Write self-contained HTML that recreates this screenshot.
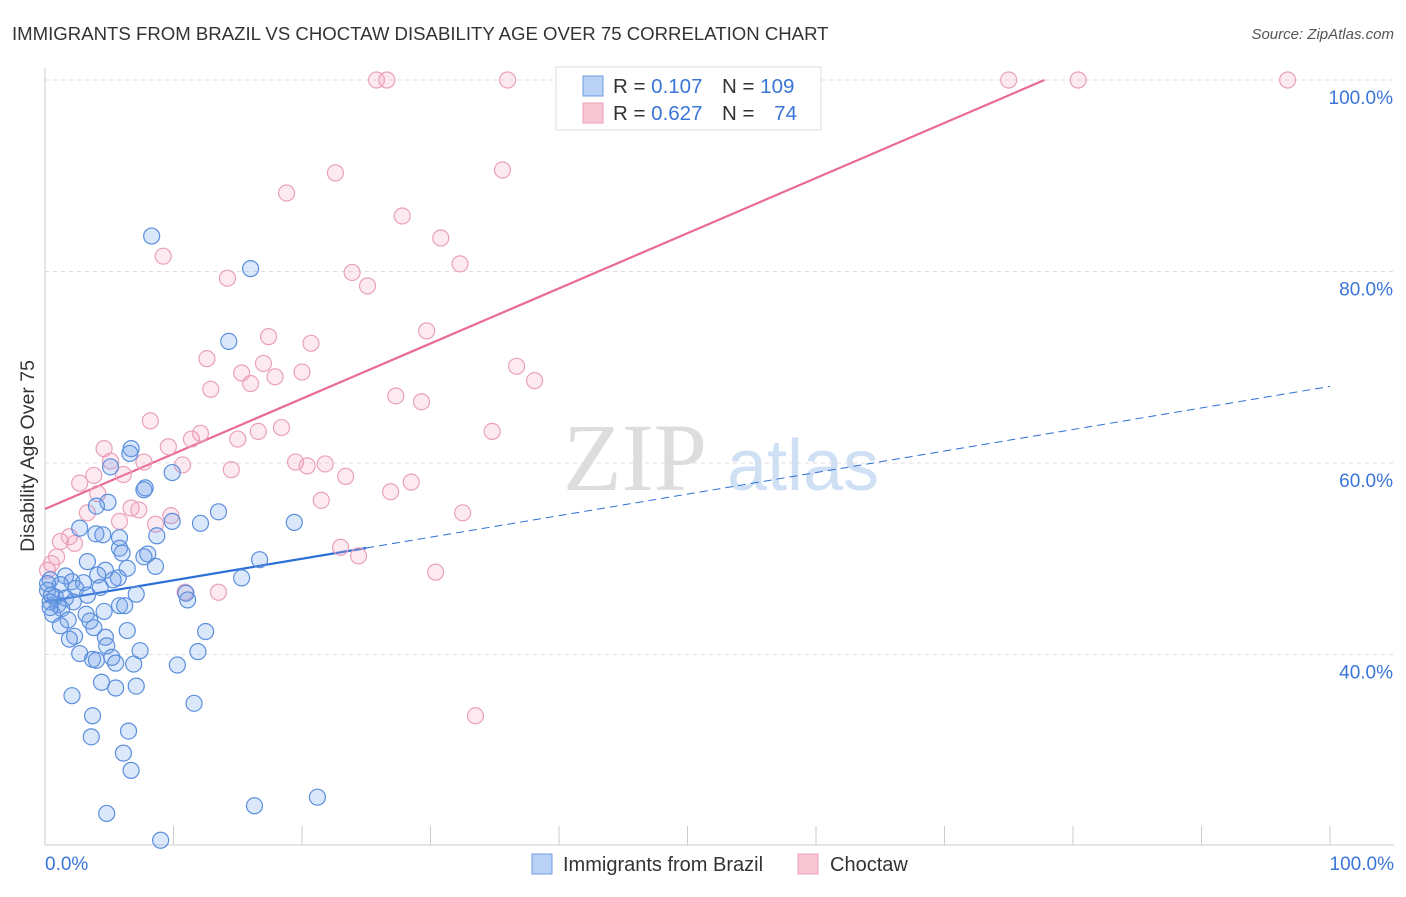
<!DOCTYPE html>
<html><head><meta charset="utf-8">
<style>
body{margin:0;background:#fff;font-family:"Liberation Sans",sans-serif;}
svg text{font-family:"Liberation Sans",sans-serif;}
</style></head>
<body>
<svg id="chart" width="1406" height="892" viewBox="0 0 1406 892" xmlns="http://www.w3.org/2000/svg">
<text x="12" y="40" font-size="18.6" fill="#333">IMMIGRANTS FROM BRAZIL VS CHOCTAW DISABILITY AGE OVER 75 CORRELATION CHART</text>
<text x="1394" y="39" font-size="15" fill="#555" text-anchor="end" font-style="italic">Source: ZipAtlas.com</text>
<g>
<text x="635" y="490" font-size="96" fill="#ddd" text-anchor="middle" font-family="Liberation Serif" style="font-family:'Liberation Serif',serif">ZIP</text>
<text x="803" y="490" font-size="72" fill="#cfe0f5" text-anchor="middle">atlas</text>
</g>
<g id="grid"></g>
<g id="axes"></g>
<g id="trends"></g>
<g id="points"></g>
<text transform="translate(34,456) rotate(-90)" font-size="19.5" fill="#333" text-anchor="middle">Disability Age Over 75</text>
<g>
<rect x="556" y="67" width="265" height="63" fill="#fff" stroke="#ddd"/>
<rect x="583" y="76" width="20" height="20" fill="#b9d1f5" stroke="#6d9de0"/>
<rect x="583" y="103" width="20" height="20" fill="#f9c6d6" stroke="#eaa0ba"/>
<text x="613" y="93" font-size="20.5" fill="#333">R = <tspan fill="#3a75d8">0.107</tspan></text>
<text x="722" y="93" font-size="20.5" fill="#333">N = <tspan fill="#3a75d8">109</tspan></text>
<text x="613" y="120" font-size="20.5" fill="#333">R = <tspan fill="#3a75d8">0.627</tspan></text>
<text x="722" y="120" font-size="20.5" fill="#333">N = <tspan fill="#3a75d8" dx="14">74</tspan></text>
</g>
<g>
<rect x="532" y="854" width="20" height="20" fill="#b9d1f5" stroke="#6d9de0"/>
<text x="563" y="871" font-size="20" fill="#333">Immigrants from Brazil</text>
<rect x="798" y="854" width="20" height="20" fill="#f9c6d6" stroke="#eaa0ba"/>
<text x="830" y="871" font-size="20" fill="#333">Choctaw</text>
</g>
</svg>
<script>
const yTicks=[40,60,80,100];
const yTickLabels=["40.0%","60.0%","80.0%","100.0%"];
const xTickLabels=["0.0%","100.0%"];
const blueX=[8.3,16.0,14.3,6.7,6.6,9.9,5.1,7.8,7.7,4.9,4.0,13.5,9.9,12.1,19.4,2.7,3.96,4.5,8.7,5.8,5.8,6.0,8.0,16.7,7.7,3.3,8.6,4.7,6.4,1.6,4.1,5.7,5.3,15.3,0.4,2.1,3.0,1.2,2.4,4.3,7.1,10.97,0.2,3.3,0.8,1.6,0.4,1.0,2.2,11.1,1.3,5.8,6.2,4.6,0.6,3.2,1.8,3.5,1.2,3.8,6.4,12.5,2.3,4.7,1.9,4.8,7.4,11.9,2.7,5.2,3.7,4.0,5.5,6.9,10.3,4.4,5.5,7.1,2.1,11.6,3.7,6.5,3.6,6.1,6.7,16.3,21.2,4.8,9.0,0.2,0.5,0.4];
const blueY=[83.7,80.3,72.7,61.5,61.0,59.0,59.6,57.4,57.2,55.9,55.5,54.9,53.9,53.7,53.8,53.2,52.6,52.5,52.4,52.2,51.1,50.6,50.5,49.9,50.2,49.7,49.2,48.8,49.0,48.2,48.3,48.0,47.8,48.0,47.8,47.6,47.5,47.3,46.9,47.0,46.3,46.4,46.7,46.2,46.0,45.9,45.5,45.2,45.5,45.7,44.8,45.1,45.1,44.5,44.2,44.2,43.6,43.5,43.0,42.8,42.5,42.4,41.9,41.8,41.6,40.9,40.4,40.3,40.1,39.7,39.5,39.4,39.1,39.0,38.9,37.1,36.5,36.7,35.7,34.9,33.6,32.0,31.4,29.7,27.9,24.2,25.1,23.4,20.6,47.4,46.2,44.9];
const pinkX=[25.8,26.6,36.0,45.4,75.0,80.4,96.7,18.8,22.6,35.6,27.8,30.8,9.2,32.3,23.9,14.2,25.1,29.7,17.4,20.7,12.6,17.0,36.7,15.3,20.0,17.9,38.1,16.0,12.9,27.3,29.3,8.2,18.4,16.6,12.1,11.4,15.0,34.8,4.6,9.6,5.1,7.7,10.7,19.5,21.8,20.4,3.8,6.1,14.5,23.4,2.7,28.5,26.9,4.1,21.5,6.7,7.3,3.3,9.8,32.5,5.8,8.6,1.9,1.2,2.3,23.0,24.4,0.9,0.5,0.2,30.4,10.9,13.5,33.5];
const pinkY=[100,100,100,100,100,100,100,88.2,90.3,90.6,85.8,83.5,81.6,80.8,79.9,79.3,78.5,73.8,73.2,72.5,70.9,70.4,70.1,69.4,69.5,69.0,68.6,68.3,67.7,67.0,66.4,64.4,63.7,63.3,63.1,62.5,62.5,63.3,61.5,61.7,60.2,60.1,59.8,60.1,59.9,59.7,58.7,58.8,59.3,58.6,57.9,58.0,57.0,56.8,56.1,55.3,55.1,54.8,54.5,54.8,53.9,53.6,52.3,51.8,51.6,51.2,50.3,50.2,49.5,48.8,48.6,46.5,46.5,33.6];
const blueTrend=[45.5,68.0];
const pinkTrend=[55.2,0.576];
const NS="http://www.w3.org/2000/svg";
const X=v=>45+v*12.85, Y=v=>80+(100-v)*9.575;
function mk(t,a,p){const e=document.createElementNS(NS,t);for(const k in a)e.setAttribute(k,a[k]);p.appendChild(e);return e;}
const grid=document.getElementById('grid'),axes=document.getElementById('axes'),tr=document.getElementById('trends'),pts=document.getElementById('points');
yTicks.forEach((v,i)=>{
 const l=mk('line',{x1:45,x2:1394,y1:Y(v),y2:Y(v),stroke:'#ddd','stroke-dasharray':'4,4'},grid);
 
 
 const t=mk('text',{x:1393,y:Y(v)+24,'font-size':19,fill:'#3a75d8','text-anchor':'end'},axes);
 t.textContent=yTickLabels[i];
 
 
});
const ax=mk('line',{x1:45,x2:45,y1:68,y2:845,stroke:'#ccc'},axes);


const bx=mk('line',{x1:45,x2:1394,y1:845,y2:845,stroke:'#ccc'},axes);


for(let i=0;i<=10;i++){const t=mk('line',{x1:X(i*10),x2:X(i*10),y1:826,y2:845,stroke:'#ccc'},axes);
 
 }
[[0,'start',45],[100,'end',1394]].forEach((d,i)=>{const t=mk('text',{x:d[2],y:870,'font-size':19,fill:'#3a75d8','text-anchor':d[1]},axes);t.textContent=xTickLabels[i];
 
 });
function addPts(xs,ys,fill,stroke,name){xs.forEach((x,i)=>{const c=mk('circle',{cx:X(x),cy:Y(ys[i]),r:8,fill:fill,stroke:stroke,'stroke-width':1.2},pts);
 
 });}
addPts(pinkX,pinkY,'rgba(244,160,190,0.22)','#eaa0ba','choctaw-point');
addPts(blueX,blueY,'rgba(110,160,235,0.25)','#5b8fdc','brazil-point');
const bt=v=>blueTrend[0]+(blueTrend[1]-blueTrend[0])*v/100;
const b1=mk('line',{x1:X(0),y1:Y(bt(0)),x2:X(25),y2:Y(bt(25)),stroke:'#2c6fd6','stroke-width':2.2},tr);


const b2=mk('line',{x1:X(25),y1:Y(bt(25)),x2:X(100),y2:Y(bt(100)),stroke:'#2c6fd6','stroke-width':1,'stroke-dasharray':'8,5'},tr);


const xe=(100-pinkTrend[0])/pinkTrend[1];
const p1=mk('line',{x1:X(0),y1:Y(pinkTrend[0]),x2:X(xe),y2:Y(100),stroke:'#e86a98','stroke-width':2.2},tr);


</script>
</body></html>
